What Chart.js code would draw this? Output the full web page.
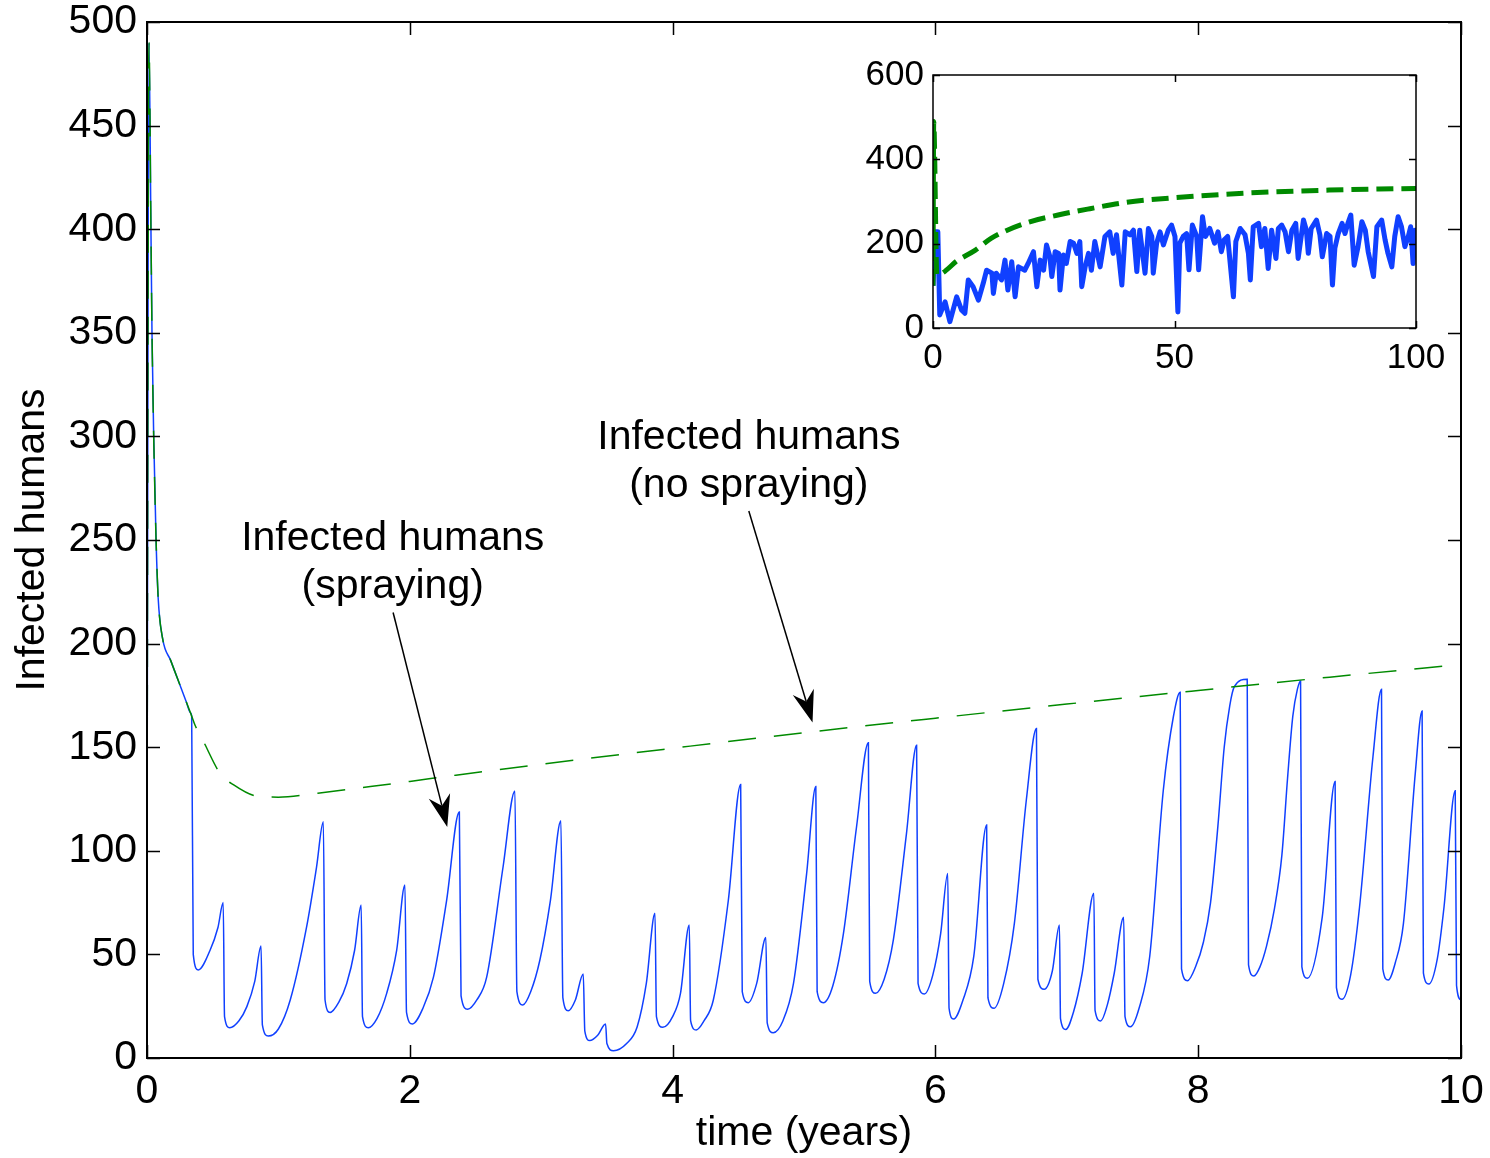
<!DOCTYPE html>
<html>
<head>
<meta charset="utf-8">
<script src="https://cdn.jsdelivr.net/npm/chart.js@4.4.0/dist/chart.umd.min.js"></script>
<style>
  html, body { margin: 0; padding: 0; background: #fff; }
  #wrap { position: relative; width: 1490px; height: 1158px; }
  #mainChart { position: absolute; left: 0; top: 0; width: 1490px; height: 1158px; }
  #insetChart { position: absolute; left: 840px; top: 50px; width: 620px; height: 340px; }
</style>
</head>
<body>
<div id="wrap">
  <canvas id="mainChart" width="1490" height="1158"></canvas>
  <canvas id="insetChart" width="620" height="340"></canvas>
</div>
<script>
// ---- data: [time (years), infected humans] ----
const sprayingPoints = [
  [0, 100], [0.015, 490], [0.03, 400], [0.038, 350], [0.051, 300], [0.069, 250], [0.085, 222], [0.12, 202],
  [0.18, 191.9], [0.24, 181.8], [0.30, 171.7], [0.33, 166.7],
  [0.34, 165], [0.352, 50], [0.39, 42.5], [0.48, 52], [0.54, 63], [0.58, 75],
  [0.59, 20], [0.63, 14.6], [0.70, 18], [0.76, 24.8], [0.82, 37], [0.868, 54],
  [0.878, 16], [0.923, 10.6], [1.0, 14], [1.09, 28], [1.215, 63.4], [1.29, 92], [1.342, 114],
  [1.355, 28], [1.393, 22], [1.46, 27], [1.52, 36], [1.58, 52], [1.63, 73.8],
  [1.64, 20], [1.684, 14.6], [1.75, 19], [1.824, 31.2], [1.9, 52], [1.963, 83.5],
  [1.975, 22], [2.02, 16.4], [2.10, 24], [2.18, 39], [2.28, 76], [2.377, 118.7],
  [2.39, 30], [2.44, 23.5], [2.51, 28], [2.585, 39], [2.71, 92.3], [2.80, 128.9],
  [2.815, 32], [2.86, 25.6], [2.92, 32], [2.99, 47.3], [3.07, 76], [3.15, 114.5],
  [3.165, 29], [3.206, 22.8], [3.26, 28], [3.32, 40.5],
  [3.332, 13], [3.37, 8.4], [3.43, 11], [3.49, 16.4],
  [3.50, 7], [3.55, 3.5], [3.65, 7], [3.73, 15], [3.80, 36], [3.866, 69.8],
  [3.877, 20], [3.925, 14.8], [4.0, 20], [4.06, 31.2], [4.127, 64.2],
  [4.137, 18], [4.18, 13.5], [4.24, 18], [4.31, 28], [4.424, 76], [4.518, 132],
  [4.53, 32], [4.576, 26.7], [4.64, 36], [4.71, 58.2],
  [4.72, 17], [4.766, 12.2], [4.84, 18], [4.92, 36], [5.02, 89], [5.09, 131],
  [5.10, 32], [5.147, 26.7], [5.22, 35], [5.30, 60], [5.40, 111.6], [5.49, 152.2],
  [5.50, 37], [5.545, 31.2], [5.61, 38], [5.68, 57], [5.78, 108.4], [5.857, 151],
  [5.868, 36], [5.916, 30.9], [5.98, 40], [6.04, 60], [6.094, 89],
  [6.104, 24], [6.138, 18.8], [6.21, 28], [6.292, 49], [6.39, 112.5],
  [6.40, 29], [6.447, 24], [6.52, 36], [6.601, 65], [6.692, 124.5], [6.769, 159],
  [6.78, 38], [6.828, 33.2], [6.89, 42], [6.944, 64.2],
  [6.952, 19], [6.992, 13.8], [7.05, 22], [7.117, 40.9], [7.206, 79.5],
  [7.215, 23], [7.258, 17.9], [7.31, 26], [7.361, 40.9], [7.433, 67.9],
  [7.443, 20], [7.485, 15.1], [7.55, 24], [7.631, 49], [7.734, 129], [7.811, 164.7], [7.863, 176.5],
  [7.873, 43], [7.919, 37.3], [7.98, 44], [8.04, 56], [8.094, 75], [8.15, 112], [8.198, 150], [8.24, 170],
  [8.275, 179.2], [8.373, 182.8],
  [8.383, 45], [8.424, 39.6], [8.47, 44], [8.52, 54], [8.58, 72], [8.637, 98], [8.68, 135], [8.72, 165],
  [8.755, 178], [8.779, 182],
  [8.789, 44], [8.831, 38.5], [8.944, 68], [9.042, 133.4],
  [9.052, 34], [9.094, 28.3], [9.16, 40], [9.228, 73], [9.33, 145.4], [9.395, 178],
  [9.405, 43], [9.446, 37.6], [9.50, 46], [9.562, 65], [9.652, 137.4], [9.704, 167.5],
  [9.714, 41], [9.755, 35.7], [9.82, 48], [9.871, 73], [9.956, 129],
  [9.966, 35], [10.0, 28]
];

const noSprayingPoints = [
  [0, 100], [0.015, 490], [0.03, 400], [0.038, 350], [0.051, 300], [0.069, 250], [0.085, 222], [0.12, 202],
  [0.18, 191.9], [0.24, 181.8], [0.30, 171.7], [0.33, 166.7],
  [0.34, 165], [0.365, 160.7], [0.43, 152.7], [0.555, 137.5], [0.66, 131.8], [0.835, 126.4], [1.0, 125.9],
  [1.3, 127.8], [1.7, 131], [2.0, 133.5], [2.35, 136.5], [3.0, 141.8], [4.0, 149.5], [5.0, 157],
  [6.0, 164], [7.0, 170.8], [8.0, 177.4], [9.0, 183.8], [10.0, 189.9]
];

// inset: 100-year run [time (years), infected humans]
const insetSprayingPoints = [
  [0, 100], [0.5, 228], [1.0, 228], [1.4, 31], [2.5, 62], [3.5, 15], [4.9, 74], [5.9, 43], [6.6, 35],
  [7.3, 114], [8.3, 98], [9.4, 66], [10.4, 106], [11.1, 137], [12.2, 130], [12.5, 82], [13.1, 130],
  [14.2, 114], [14.9, 161], [15.5, 90], [16.3, 157], [17.0, 74], [17.7, 145], [19.0, 137], [19.7, 153],
  [20.8, 181], [21.5, 98], [22.2, 161], [22.9, 137], [23.5, 197], [24.2, 169], [24.6, 122], [25.3, 181],
  [26.0, 177], [26.3, 90], [27.0, 173], [27.6, 153], [28.4, 205], [29.1, 201], [29.8, 177], [30.4, 205],
  [30.8, 98], [31.5, 145], [32.2, 177], [32.8, 137], [33.5, 205], [34.6, 145], [35.6, 217], [36.6, 228],
  [37.3, 177], [38.0, 221], [39.1, 102], [39.8, 228], [40.8, 221], [41.5, 232], [42.2, 134], [42.8, 232],
  [43.9, 130], [44.6, 236], [45.3, 217], [45.6, 130], [46.3, 201], [47.0, 228], [47.7, 197], [48.7, 232],
  [49.4, 244], [50.1, 217], [50.7, 38], [51.1, 201], [51.8, 217], [52.5, 224], [53.0, 138], [53.7, 244],
  [54.6, 217], [55.0, 138], [55.8, 264], [56.4, 217], [57.3, 236], [58.3, 201], [59.0, 228], [59.7, 181],
  [60.3, 209], [61.0, 217], [62.2, 74], [62.7, 205], [63.6, 236], [64.6, 221], [65.3, 177], [65.7, 114],
  [66.3, 240], [67.4, 248], [68.0, 193], [68.7, 236], [69.4, 141], [70.1, 232], [71.0, 165], [71.5, 236],
  [72.2, 244], [72.9, 228], [73.6, 181], [74.3, 232], [75.1, 248], [75.6, 165], [76.7, 256], [77.3, 232],
  [77.7, 177], [78.3, 236], [79.4, 256], [80.1, 221], [80.6, 169], [81.5, 224], [82.2, 217], [82.7, 102],
  [83.2, 189], [83.9, 224], [84.7, 248], [85.3, 224], [85.9, 248], [86.5, 268], [87.2, 149], [88.0, 193],
  [88.8, 252], [89.5, 232], [90.1, 181], [91.2, 122], [91.9, 240], [92.9, 256], [93.6, 209], [94.2, 177],
  [95.0, 145], [95.6, 217], [96.3, 264], [97.0, 240], [97.7, 193], [98.4, 217], [98.9, 240], [99.4, 153],
  [99.8, 232], [100, 200]
];

const insetNoSprayingPoints = [
  [0, 100], [0.15, 490], [0.8, 126], [5.2, 161], [8.7, 184], [12.1, 213], [19, 248], [25.9, 268],
  [32.5, 283], [40, 298], [50, 309], [65, 320], [82, 327], [100, 331]
];

const xTicks = [0, 2, 4, 6, 8, 10];
const yTicks = [0, 50, 100, 150, 200, 250, 300, 350, 400, 450, 500];
const insetXTicks = [0, 50, 100];
const insetYTicks = [0, 200, 400, 600];

// annotation labels and arrows, anchored in data units
const labelSpraying = ['Infected humans', '(spraying)'];
const labelNoSpraying = ['Infected humans', '(no spraying)'];
const labelAnchors = [[1.87, 250.5], [4.58, 299.5]];
const arrowStarts = [[1.873, 215], [4.58, 264]];
const arrowTips = [[2.285, 111.5], [5.065, 161.9]];

const FONT = "'Liberation Sans', Arial, Helvetica, sans-serif";
Chart.defaults.font.family = FONT;
Chart.defaults.color = '#000';

const BLUE = '#1040ff';
const GREEN = '#008a00';

function toXY(points) {
  return points.map(p => ({ x: p[0], y: p[1] }));
}

// box + inward tick marks on all four sides (MATLAB style)
const frameTicks = {
  id: 'frameTicks',
  afterDraw(chart, args, opts) {
    const { ctx, chartArea: a, scales } = chart;
    const len = opts.len || 12;
    ctx.save();
    ctx.strokeStyle = '#000';
    ctx.lineWidth = opts.lineWidth || 1.5;
    ctx.beginPath();
    scales.x.ticks.forEach(t => {
      const x = Math.round(scales.x.getPixelForValue(t.value)) + 0.5;
      ctx.moveTo(x, a.bottom); ctx.lineTo(x, a.bottom - len);
      ctx.moveTo(x, a.top); ctx.lineTo(x, a.top + len);
    });
    scales.y.ticks.forEach(t => {
      const y = Math.round(scales.y.getPixelForValue(t.value)) + 0.5;
      ctx.moveTo(a.left, y); ctx.lineTo(a.left + len, y);
      ctx.moveTo(a.right, y); ctx.lineTo(a.right - len, y);
    });
    ctx.stroke();
    ctx.lineWidth = opts.frameWidth || 1.5;
    ctx.strokeRect(a.left, a.top, a.right - a.left, a.bottom - a.top);
    ctx.restore();
  }
};

function drawArrow(ctx, x1, y1, x2, y2) {
  const dx = x2 - x1, dy = y2 - y1, l = Math.hypot(dx, dy);
  const ux = dx / l, uy = dy / l, nx = -uy, ny = ux;
  const headLen = 32, halfW = 11, notch = 22;
  ctx.beginPath();
  ctx.moveTo(x1, y1);
  ctx.lineTo(x2 - ux * notch, y2 - uy * notch);
  ctx.stroke();
  ctx.beginPath();
  ctx.moveTo(x2, y2);
  ctx.lineTo(x2 - ux * headLen + nx * halfW, y2 - uy * headLen + ny * halfW);
  ctx.lineTo(x2 - ux * notch, y2 - uy * notch);
  ctx.lineTo(x2 - ux * headLen - nx * halfW, y2 - uy * headLen - ny * halfW);
  ctx.closePath();
  ctx.fill();
}

const annotations = {
  id: 'annotations',
  afterDraw(chart) {
    const { ctx, scales } = chart;
    const sx = v => scales.x.getPixelForValue(v);
    const sy = v => scales.y.getPixelForValue(v);
    ctx.save();
    ctx.fillStyle = '#000';
    ctx.strokeStyle = '#000';
    ctx.lineWidth = 1.5;
    ctx.font = '41px ' + FONT;
    ctx.textAlign = 'center';
    ctx.textBaseline = 'middle';
    [labelSpraying, labelNoSpraying].forEach((lines, i) => {
      const x = sx(labelAnchors[i][0]);
      const y = sy(labelAnchors[i][1]);
      lines.forEach((s, k) => ctx.fillText(s, x, y + k * 48));
    });
    arrowStarts.forEach((s, i) => {
      drawArrow(ctx, sx(s[0]), sy(s[1]), sx(arrowTips[i][0]), sy(arrowTips[i][1]));
    });
    ctx.restore();
  }
};

// keep the plot box exactly where the layout padding puts it
function fixX(h) {
  return s => { s.height = h; s.paddingLeft = 0; s.paddingRight = 0; };
}
function fixY(w) {
  return s => { s.width = w; s.paddingTop = 0; s.paddingBottom = 0; };
}

new Chart(document.getElementById('mainChart'), {
  type: 'line',
  data: {
    datasets: [
      {
        label: 'Infected humans (no spraying)',
        data: toXY(noSprayingPoints),
        borderColor: GREEN,
        borderWidth: 1.5,
        borderDash: [28, 18],
        pointRadius: 0,
        cubicInterpolationMode: 'monotone',
        order: 0
      },
      {
        label: 'Infected humans (spraying)',
        data: toXY(sprayingPoints),
        borderColor: BLUE,
        borderWidth: 1.5,
        pointRadius: 0,
        cubicInterpolationMode: 'monotone',
        order: 1
      }
    ]
  },
  options: {
    responsive: false,
    animation: false,
    devicePixelRatio: 1,
    layout: { padding: { top: 22, right: 29, bottom: 0, left: 0 } },
    plugins: {
      legend: { display: false },
      tooltip: { enabled: false },
      frameTicks: { len: 13, lineWidth: 1.5, frameWidth: 2 }
    },
    scales: {
      x: {
        type: 'linear',
        min: 0, max: 10,
        afterBuildTicks: s => { s.ticks = xTicks.map(v => ({ value: v })); },
        afterFit: fixX(100),
        grid: { display: false, drawTicks: false },
        border: { display: false },
        ticks: { font: { size: 41 }, color: '#000', padding: 9, maxRotation: 0 },
        title: { display: true, text: 'time (years)', font: { size: 41 }, color: '#000', padding: { top: 0, bottom: 0 } }
      },
      y: {
        type: 'linear',
        min: 0, max: 500,
        afterBuildTicks: s => { s.ticks = yTicks.map(v => ({ value: v })); },
        afterFit: fixY(147),
        grid: { display: false, drawTicks: false },
        border: { display: false },
        ticks: { font: { size: 41 }, color: '#000', padding: 10 },
        title: { display: true, text: 'Infected humans', font: { size: 41 }, color: '#000', padding: { top: 8, bottom: 0 } }
      }
    }
  },
  plugins: [frameTicks, annotations]
});

new Chart(document.getElementById('insetChart'), {
  type: 'line',
  data: {
    datasets: [
      {
        label: 'no spraying',
        data: toXY(insetNoSprayingPoints),
        borderColor: GREEN,
        borderWidth: 5,
        borderDash: [17, 8],
        pointRadius: 0,
        cubicInterpolationMode: 'monotone',
        order: 0
      },
      {
        label: 'spraying',
        data: toXY(insetSprayingPoints),
        borderColor: BLUE,
        borderWidth: 5,
        borderJoinStyle: 'round',
        pointRadius: 0,
        tension: 0,
        order: 1
      }
    ]
  },
  options: {
    responsive: false,
    animation: false,
    devicePixelRatio: 1,
    layout: { padding: { top: 25, right: 44, bottom: 0, left: 0 } },
    plugins: {
      legend: { display: false },
      tooltip: { enabled: false },
      frameTicks: { len: 7, lineWidth: 1.5, frameWidth: 1.5 }
    },
    scales: {
      x: {
        type: 'linear',
        min: 0, max: 100,
        afterBuildTicks: s => { s.ticks = insetXTicks.map(v => ({ value: v })); },
        afterFit: fixX(62),
        grid: { display: false, drawTicks: false },
        border: { display: false },
        ticks: { font: { size: 35 }, color: '#000', padding: 9, maxRotation: 0 }
      },
      y: {
        type: 'linear',
        min: 0, max: 600,
        afterBuildTicks: s => { s.ticks = insetYTicks.map(v => ({ value: v })); },
        afterFit: fixY(93),
        grid: { display: false, drawTicks: false },
        border: { display: false },
        ticks: { font: { size: 35 }, color: '#000', padding: 9 }
      }
    }
  },
  plugins: [frameTicks]
});
</script>
</body>
</html>
